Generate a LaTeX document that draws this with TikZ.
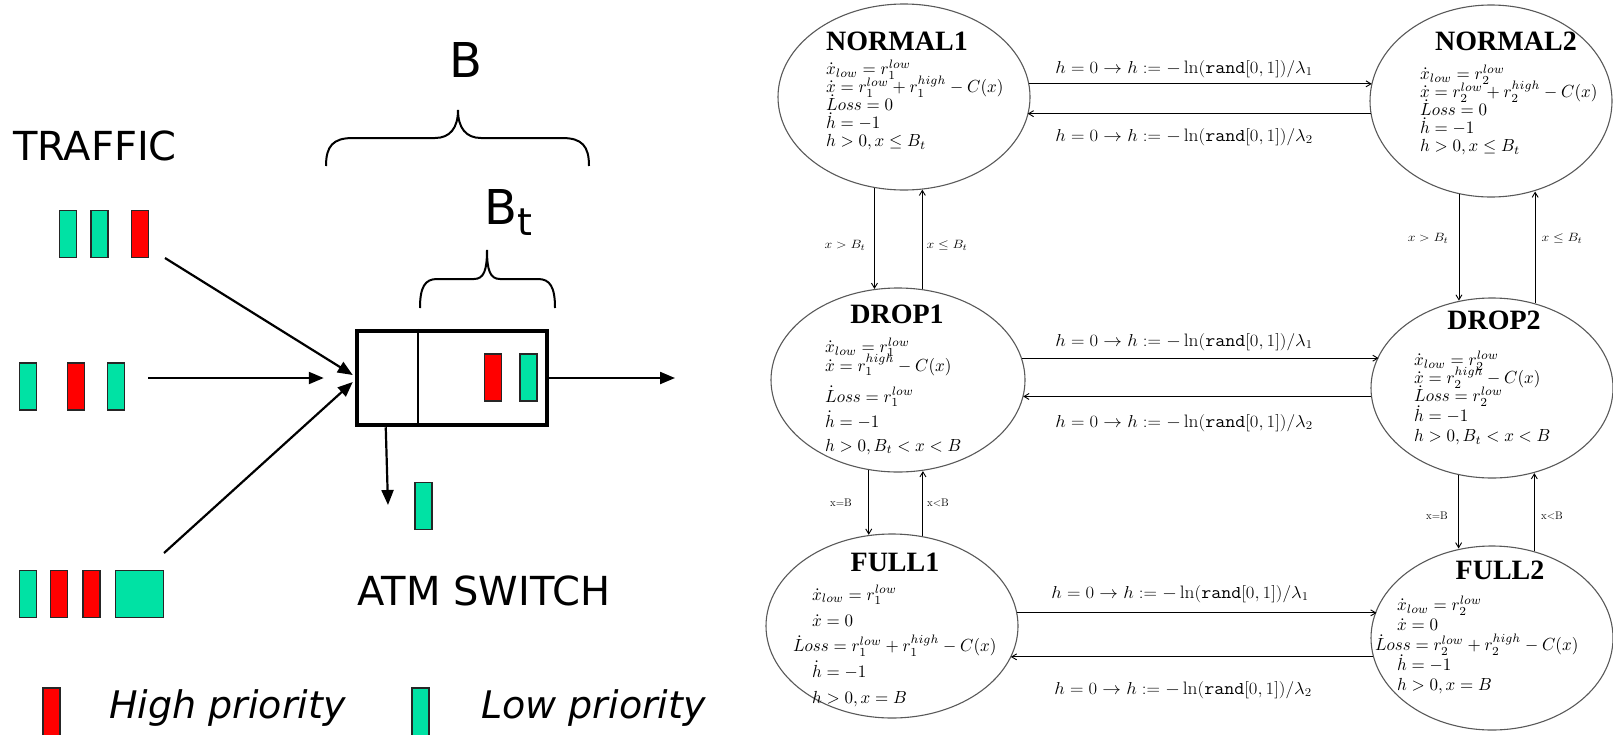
\documentclass[tikz,border=0pt]{standalone}
\usepackage{graphicx}
\usepackage{fontspec}
\newfontfamily\dvs{DejaVu Sans}
\newfontfamily\tms{Liberation Serif}
\usetikzlibrary{arrows.meta,shapes.geometric,calc}
\definecolor{pkgreen}{RGB}{0,226,164}
\definecolor{pkred}{RGB}{255,0,0}
% fixed baselines inside multi-line nodes
\newcommand\fixedlines{\lineskiplimit-100pt\lineskip0pt\relax}
% stacked flow equations of one location, set at 10pt and enlarged
\newcommand\eqstack[2][10.3pt]{\scalebox{1.70}[1.75]{\vbox{\fontsize{10}{11}\selectfont\fixedlines\baselineskip=#1\relax #2}}}
% guard conditions and reset rules
\newcommand\rst[1]{\scalebox{1.08}[1]{$h=0\rightarrow h:=-\ln(\mathtt{rand}[0,1])/\lambda_{#1}$}}
\newcommand\grd[1]{\scalebox{1.15}[1]{$#1$}}

\begin{document}
\begin{tikzpicture}[x=1pt,y=-1pt,
  pkt/.style={draw=black!85,line width=1.6pt,minimum width=17pt,minimum height=47pt,inner sep=0pt},
  flow/.style={line width=2.2pt,-{Triangle[length=15pt,width=12pt]}},
  brace/.style={line width=2pt},
  lbl/.style={font=\dvs\fontsize{40}{48}\selectfont,inner sep=0pt},
  leg/.style={font=\dvs\itshape\fontsize{38}{46}\selectfont,inner sep=0pt,anchor=west},
  state/.style={ellipse,draw=black!65,line width=1.1pt,inner sep=0pt},
  ttl/.style={font=\tms\bfseries\fontsize{28}{32}\selectfont,inner sep=0pt},
  body/.style={font=\fontsize{10}{11}\selectfont,align=left,inner sep=0pt,anchor=west},
  conn/.style={line width=0.9pt,-{Straight Barb[length=5pt,width=6pt]}},
  trans/.style={font=\fontsize{18}{20}\selectfont,align=center,inner sep=0pt},
  guard/.style={font=\fontsize{12.5}{15}\selectfont,align=center,inner sep=0pt},
  guardr/.style={font=\fontsize{11}{13}\selectfont,align=center,inner sep=0pt}]
\useasboundingbox (0,0) rectangle (1613,734);

% ---------------- ATM switch ----------------
\node[lbl] (traffic) at (95,146) {TRAFFIC};

% incoming cell streams
\node[pkt,fill=pkgreen] (p11) at (68,234) {};
\node[pkt,fill=pkgreen] (p12) at (99.5,234) {};
\node[pkt,fill=pkred]   (p13) at (140,234) {};

\node[pkt,fill=pkgreen] (p21) at (28,386.5) {};
\node[pkt,fill=pkred]   (p22) at (76,386.5) {};
\node[pkt,fill=pkgreen] (p23) at (116,386.5) {};

\node[pkt,fill=pkgreen] (p31) at (28,594) {};
\node[pkt,fill=pkred]   (p32) at (59,594) {};
\node[pkt,fill=pkred]   (p33) at (91.5,594) {};
\node[pkt,fill=pkgreen,minimum width=48pt] (p34) at (139.5,594) {};

% switch buffer
\node[draw,line width=4.5pt,minimum width=190pt,minimum height=94pt,inner sep=0pt] (sw) at (452,378) {};
\draw[line width=2pt] ($(sw.north west)+(63,0)$) -- ($(sw.south west)+(63,0)$);
\node[pkt,fill=pkred]   (q1) at (493,377.5) {};
\node[pkt,fill=pkgreen] (q2) at (528.5,377.5) {};

\coordinate (r1) at (165,258);
\coordinate (r2) at (148,378);
\coordinate (r3) at (164,553);
\coordinate (out) at (675,378);
\coordinate (dr) at (388,505);
\draw[flow] (r1) -- ($(sw.west)+(-2,-3)$);
\draw[flow,shorten >=31pt] (r2) -- (sw.west);
\draw[flow] (r3) -- ($(sw.west)+(-2,4)$);
\draw[flow] (sw.east) -- (out);
\draw[flow] ($(sw.south west)+(31,0)$) -- (dr);

\node[pkt,fill=pkgreen] (dropped) at (423.5,506) {};

% buffer size braces
\draw[brace] (326,166) .. controls (326,146) and (333,138) .. (353,138) -- (435,138)
  .. controls (450,138) and (458,128) .. (458,110)
  .. controls (458,128) and (466,138) .. (481,138) -- (562,138)
  .. controls (582,138) and (589,146) .. (589,166);
\node[lbl,font=\dvs\fontsize{48}{56}\selectfont] (bB) at (466,60) {B};

\draw[brace] (420,308) .. controls (420,287) and (425,279) .. (437,279) -- (474,279)
  .. controls (484,279) and (487,270) .. (487,250)
  .. controls (487,270) and (490,279) .. (500,279) -- (538,279)
  .. controls (550,279) and (555,287) .. (555,308);
\node[lbl,font=\dvs\fontsize{48}{56}\selectfont] (bBt) at (508,212) {B\raisebox{-11pt}{\fontsize{38}{40}\selectfont t}};

\node[lbl] (atm) at (484,591) {ATM SWITCH};

% legend
\node[pkt,fill=pkred,minimum height=57pt]   (kh) at (51.5,716.5) {};
\node[leg] (kht) at (109,708) {High priority};
\node[pkt,fill=pkgreen,minimum height=57pt] (kl) at (420.5,716.5) {};
\node[leg] (klt) at (481,708) {Low priority};

% ---------------- hybrid automaton ----------------
\node[state,minimum width=252pt,minimum height=186pt] (n1) at (904,97) {};
\node[state,minimum width=242pt,minimum height=192pt] (n2) at (1491,101) {};
\node[state,minimum width=254pt,minimum height=184pt] (d1) at (898,380) {};
\node[state,minimum width=242pt,minimum height=180pt] (d2) at (1492,388) {};
\node[state,minimum width=252pt,minimum height=184pt] (f1) at (892,626) {};
\node[state,minimum width=242pt,minimum height=184pt] (f2) at (1492,638) {};

\node[ttl] (n1h) at (897,41) {NORMAL1};
\node[body] (n1b) at (826,105) {\eqstack{%
  \hbox{$\dot{x}_{low}=r_1^{low}$}
  \hbox{$\dot{x}=r_1^{low}+r_1^{high}-C(x)$}
  \hbox{$\dot{L}oss=0$}
  \hbox{$\dot{h}=-1$}
  \hbox{$h>0,x\leq B_t$}}};

\node[ttl] (n2h) at (1506,41) {NORMAL2};
\node[body] (n2b) at (1420,110) {\eqstack{%
  \hbox{$\dot{x}_{low}=r_2^{low}$}
  \hbox{$\dot{x}=r_2^{low}+r_2^{high}-C(x)$}
  \hbox{$\dot{L}oss=0$}
  \hbox{$\dot{h}=-1$}
  \hbox{$h>0,x\leq B_t$}}};

\node[ttl] (d1h) at (897,314) {DROP1};
\node[body] (d1b) at (825,396) {\eqstack[10.8pt]{%
  \hbox{$\dot{x}_{low}=r_1^{low}$}
  \hbox{$\dot{x}=r_1^{high}-C(x)$}\vskip6.85pt
  \hbox{$\dot{L}oss=r_1^{low}$}\vskip3.4pt
  \hbox{$\dot{h}=-1$}\vskip2.9pt
  \hbox{$h>0,B_t<x<B$}}};

\node[ttl] (d2h) at (1494,320) {DROP2};
\node[body] (d2b) at (1414,398) {\eqstack{%
  \hbox{$\dot{x}_{low}=r_2^{low}$}
  \hbox{$\dot{x}=r_2^{high}-C(x)$}
  \hbox{$\dot{L}oss=r_2^{low}$}\vskip1.1pt
  \hbox{$\dot{h}=-1$}\vskip1.1pt
  \hbox{$h>0,B_t<x<B$}}};

\node[ttl] (f1h) at (895,562) {FULL1};
\node[body] (f1b) at (812,646) {\eqstack[14.7pt]{%
  \hbox{$\dot{x}_{low}=r_1^{low}$}
  \hbox{$\dot{x}=0$}
  \hbox{\hspace*{-11.2pt}$\dot{L}oss=r_1^{low}+r_1^{high}-C(x)$}
  \hbox{$\dot{h}=-1$}
  \hbox{$h>0,x=B$}}};

\node[ttl] (f2h) at (1500,570) {FULL2};
\node[body] (f2b) at (1397,645) {\eqstack[11.4pt]{%
  \hbox{$\dot{x}_{low}=r_2^{low}$}
  \hbox{$\dot{x}=0$}
  \hbox{\hspace*{-13pt}$\dot{L}oss=r_2^{low}+r_2^{high}-C(x)$}
  \hbox{$\dot{h}=-1$}
  \hbox{$h>0,x=B$}}};

% transitions between the two traffic classes
\draw[conn] (n1.6.41) -- (n2.171.39 |- n1.6.41);
\draw[conn] (n2.186.67) -- (n1.351.72 |- n2.186.67);
\draw[conn] (d1.10.59) -- (d2.164.74 |- d1.10.59);
\draw[conn] (d2.184.28) -- (d1.352.24 |- d2.184.28);
\draw[conn] (f1.6.88) -- (f2.166.86 |- f1.6.88);
\draw[conn] (f2.189.12) -- (f1.345.35 |- f2.189.12);

\node[trans] (t1) at (1184,69)  {\rst{1}};
\node[trans] (t2) at (1184,137) {\rst{2}};
\node[trans] (t3) at (1184,342) {\rst{1}};
\node[trans] (t4) at (1184,423) {\rst{2}};
\node[trans] (t5) at (1180,594) {\rst{1}};
\node[trans] (t6) at (1183,690) {\rst{2}};

% transitions between buffer regimes
\draw[conn] (n1.252.23) -- (n1.252.23 |- d1.104.26);
\draw[conn] (d1.75.12) -- (d1.75.12 |- n1.281.06);
\draw[conn] (d1.252.67) -- (d1.252.67 |- f1.103.65);
\draw[conn] (f1.71.44) -- (f1.71.44 |- d1.284.88);
\draw[conn] (n2.251.53) -- (n2.251.53 |- d2.110.23);
\draw[conn] (d2.63.54) -- (d2.63.54 |- n2.295.61);
\draw[conn] (d2.249.77) -- (d2.249.77 |- f2.109.83);
\draw[conn] (f2.64.05) -- (f2.64.05 |- d2.296.46);

\node[guard] (g1) at (845,245) {\grd{x>B_t}};
\node[guard] (g2) at (947,245) {\grd{x\leq B_t}};
\node[guard] (g3) at (1428,238) {\grd{x>B_t}};
\node[guard] (g4) at (1562,238) {\grd{x\leq B_t}};
\node[guardr] (g5) at (841,503) {x=B};
\node[guardr] (g6) at (938,503) {x<B};
\node[guardr] (g7) at (1437,516) {x=B};
\node[guardr] (g8) at (1552,516) {x<B};
\end{tikzpicture}
\end{document}
